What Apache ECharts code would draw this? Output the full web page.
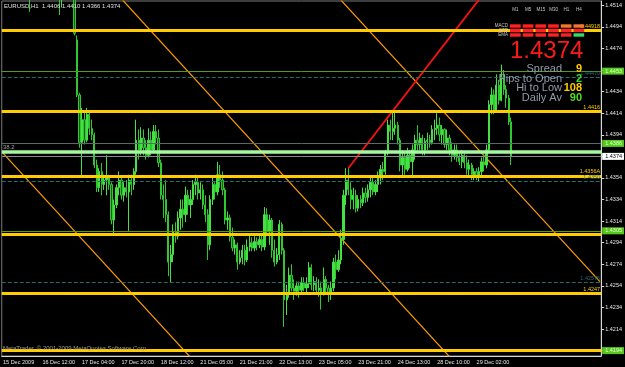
<!DOCTYPE html>
<html>
<head>
<meta charset="utf-8">
<script src="https://cdn.jsdelivr.net/npm/echarts@6/dist/echarts.min.js"></script>
<style>
html, body { margin: 0; padding: 0; background: #000; }
#chart { width: 625px; height: 367px; }
</style>
</head>
<body>
<div id="chart"></div>
<script>
// EURUSD H1, 15 Dec - 29 Dec 2009
const xTickLabels = ['15 Dec 2009', '16 Dec 12:00', '17 Dec 04:00', '17 Dec 20:00', '18 Dec 12:00',
  '21 Dec 05:00', '21 Dec 21:00', '22 Dec 13:00', '23 Dec 05:00', '23 Dec 21:00', '24 Dec 13:00',
  '28 Dec 10:00', '29 Dec 02:00'];
const slotCount = 243; // bars + empty shift area on the right
const yTickValues = [1.4194, 1.4214, 1.4234, 1.4254, 1.4274, 1.4294, 1.4314, 1.4334, 1.4354,
  1.4374, 1.4394, 1.4414, 1.4434, 1.4454, 1.4474, 1.4494, 1.4514];

// [open, close, low, high]
const candles = [
  [1.4548,1.4552,1.4541,1.4558],[1.4552,1.4545,1.4540,1.4556],[1.4545,1.4538,1.4533,1.4549],[1.4538,1.4542,1.4532,1.4547],
  [1.4542,1.4535,1.4530,1.4546],[1.4535,1.4531,1.4525,1.4540],[1.4531,1.4536,1.4527,1.4540],[1.4536,1.4530,1.4524,1.4539],
  [1.4530,1.4527,1.4522,1.4535],[1.4527,1.4532,1.4523,1.4536],[1.4532,1.4526,1.4521,1.4535],[1.4526,1.4523,1.4508,1.4531],
  [1.4523,1.4530,1.4520,1.4534],[1.4530,1.4536,1.4526,1.4541],[1.4536,1.4541,1.4531,1.4546],[1.4541,1.4538,1.4533,1.4548],
  [1.4538,1.4544,1.4534,1.4549],[1.4544,1.4540,1.4535,1.4550],[1.4540,1.4535,1.4530,1.4545],[1.4535,1.4539,1.4529,1.4543],
  [1.4539,1.4533,1.4527,1.4542],[1.4533,1.4529,1.4524,1.4537],[1.4529,1.4525,1.4521,1.4533],[1.4525,1.4522,1.4505,1.4530],
  [1.4522,1.4527,1.4512,1.4531],[1.4527,1.4531,1.4522,1.4536],[1.4531,1.4528,1.4523,1.4535],[1.4528,1.4533,1.4524,1.4538],
  [1.4533,1.4524,1.4520,1.4540],[1.4524,1.4488,1.4486,1.4528],[1.4482,1.4431,1.4429,1.4486],[1.4431,1.4387,1.4382,1.4433],
  [1.4387,1.4408,1.4354,1.4419],[1.4408,1.4389,1.4385,1.4417],[1.4389,1.4413,1.4387,1.4419],[1.4413,1.4400,1.4394,1.4417],
  [1.4400,1.4394,1.4389,1.4408],[1.4394,1.4366,1.4363,1.4396],[1.4366,1.4345,1.4341,1.4371],[1.4345,1.4360,1.4341,1.4363],
  [1.4360,1.4348,1.4338,1.4368],[1.4348,1.4352,1.4343,1.4357],[1.4352,1.4354,1.4338,1.4375],[1.4354,1.4348,1.4343,1.4357],
  [1.4348,1.4315,1.4311,1.4350],[1.4315,1.4329,1.4301,1.4334],[1.4329,1.4345,1.4326,1.4348],[1.4345,1.4352,1.4338,1.4360],
  [1.4352,1.4338,1.4334,1.4354],[1.4338,1.4345,1.4332,1.4350],[1.4345,1.4341,1.4336,1.4352],[1.4341,1.4352,1.4305,1.4357],
  [1.4352,1.4348,1.4338,1.4357],[1.4348,1.4360,1.4343,1.4363],[1.4360,1.4389,1.4357,1.4408],[1.4389,1.4380,1.4371,1.4399],
  [1.4380,1.4391,1.4375,1.4401],[1.4391,1.4382,1.4375,1.4399],[1.4382,1.4375,1.4371,1.4389],[1.4375,1.4389,1.4373,1.4400],
  [1.4389,1.4380,1.4375,1.4397],[1.4380,1.4397,1.4378,1.4403],[1.4397,1.4391,1.4385,1.4403],[1.4391,1.4368,1.4364,1.4399],
  [1.4368,1.4338,1.4334,1.4371],[1.4338,1.4334,1.4317,1.4348],[1.4334,1.4320,1.4313,1.4352],[1.4320,1.4276,1.4263,1.4323],
  [1.4276,1.4283,1.4257,1.4292],[1.4283,1.4304,1.4276,1.4311],[1.4304,1.4300,1.4294,1.4313],[1.4300,1.4317,1.4297,1.4323],
  [1.4317,1.4325,1.4306,1.4334],[1.4325,1.4320,1.4308,1.4334],[1.4320,1.4338,1.4313,1.4346],[1.4338,1.4329,1.4320,1.4343],
  [1.4329,1.4334,1.4317,1.4343],[1.4334,1.4348,1.4329,1.4352],[1.4348,1.4350,1.4338,1.4357],[1.4350,1.4340,1.4334,1.4354],
  [1.4340,1.4343,1.4334,1.4350],[1.4343,1.4329,1.4325,1.4348],[1.4329,1.4320,1.4313,1.4338],[1.4320,1.4292,1.4278,1.4325],
  [1.4292,1.4334,1.4287,1.4338],[1.4334,1.4348,1.4329,1.4354],[1.4348,1.4341,1.4334,1.4350],[1.4341,1.4357,1.4338,1.4369],
  [1.4357,1.4352,1.4345,1.4366],[1.4352,1.4343,1.4338,1.4360],[1.4343,1.4315,1.4311,1.4345],[1.4315,1.4317,1.4306,1.4323],
  [1.4317,1.4299,1.4295,1.4320],[1.4299,1.4289,1.4286,1.4308],[1.4289,1.4292,1.4283,1.4297],[1.4292,1.4276,1.4269,1.4294],
  [1.4276,1.4280,1.4274,1.4287],[1.4280,1.4287,1.4274,1.4292],[1.4287,1.4278,1.4273,1.4292],[1.4278,1.4290,1.4276,1.4297],
  [1.4290,1.4294,1.4286,1.4303],[1.4294,1.4289,1.4286,1.4299],[1.4289,1.4295,1.4286,1.4300],[1.4295,1.4292,1.4287,1.4299],
  [1.4292,1.4297,1.4289,1.4301],[1.4297,1.4290,1.4286,1.4301],[1.4290,1.4320,1.4287,1.4327],[1.4320,1.4304,1.4300,1.4326],
  [1.4304,1.4315,1.4292,1.4320],[1.4315,1.4287,1.4280,1.4317],[1.4287,1.4276,1.4272,1.4297],[1.4276,1.4283,1.4274,1.4289],
  [1.4283,1.4311,1.4278,1.4315],[1.4311,1.4287,1.4283,1.4313],[1.4287,1.4241,1.4216,1.4289],[1.4241,1.4246,1.4227,1.4255],
  [1.4246,1.4264,1.4243,1.4271],[1.4264,1.4252,1.4249,1.4274],[1.4252,1.4249,1.4241,1.4260],[1.4249,1.4254,1.4245,1.4258],
  [1.4254,1.4250,1.4243,1.4258],[1.4250,1.4257,1.4246,1.4262],[1.4257,1.4252,1.4249,1.4262],[1.4252,1.4256,1.4248,1.4262],
  [1.4256,1.4271,1.4252,1.4276],[1.4271,1.4255,1.4250,1.4274],[1.4255,1.4258,1.4249,1.4263],[1.4258,1.4250,1.4246,1.4262],
  [1.4250,1.4252,1.4244,1.4260],[1.4252,1.4248,1.4232,1.4258],[1.4248,1.4260,1.4245,1.4271],[1.4260,1.4252,1.4246,1.4263],
  [1.4252,1.4246,1.4239,1.4255],[1.4246,1.4252,1.4241,1.4258],[1.4252,1.4276,1.4249,1.4280],[1.4276,1.4269,1.4260,1.4283],
  [1.4269,1.4278,1.4267,1.4287],[1.4278,1.4297,1.4274,1.4306],[1.4297,1.4338,1.4292,1.4343],[1.4338,1.4352,1.4329,1.4363],
  [1.4352,1.4343,1.4338,1.4363],[1.4343,1.4334,1.4325,1.4350],[1.4334,1.4338,1.4325,1.4345],[1.4338,1.4326,1.4322,1.4343],
  [1.4326,1.4334,1.4323,1.4338],[1.4334,1.4331,1.4326,1.4338],[1.4331,1.4340,1.4328,1.4345],[1.4340,1.4336,1.4331,1.4345],
  [1.4336,1.4343,1.4332,1.4348],[1.4343,1.4350,1.4336,1.4354],[1.4350,1.4341,1.4338,1.4354],[1.4341,1.4348,1.4338,1.4352],
  [1.4348,1.4354,1.4341,1.4360],[1.4354,1.4362,1.4348,1.4366],[1.4362,1.4360,1.4352,1.4369],[1.4360,1.4378,1.4357,1.4380],
  [1.4378,1.4403,1.4375,1.4408],[1.4403,1.4397,1.4389,1.4408],[1.4397,1.4400,1.4389,1.4415],[1.4400,1.4403,1.4394,1.4415],
  [1.4403,1.4389,1.4385,1.4406],[1.4389,1.4366,1.4360,1.4391],[1.4366,1.4373,1.4354,1.4380],[1.4373,1.4362,1.4357,1.4378],
  [1.4362,1.4375,1.4360,1.4382],[1.4375,1.4369,1.4363,1.4380],[1.4369,1.4380,1.4354,1.4385],[1.4380,1.4389,1.4371,1.4394],
  [1.4389,1.4385,1.4378,1.4403],[1.4385,1.4391,1.4380,1.4396],[1.4391,1.4380,1.4375,1.4394],[1.4380,1.4388,1.4375,1.4391],
  [1.4388,1.4389,1.4380,1.4396],[1.4389,1.4387,1.4382,1.4394],[1.4387,1.4399,1.4385,1.4403],[1.4399,1.4400,1.4389,1.4408],
  [1.4400,1.4403,1.4394,1.4414],[1.4403,1.4394,1.4388,1.4410],[1.4394,1.4399,1.4385,1.4403],[1.4399,1.4385,1.4382,1.4400],
  [1.4385,1.4391,1.4380,1.4399],[1.4391,1.4380,1.4375,1.4394],[1.4380,1.4375,1.4369,1.4387],[1.4375,1.4380,1.4371,1.4385],
  [1.4380,1.4373,1.4369,1.4385],[1.4373,1.4369,1.4366,1.4378],[1.4369,1.4375,1.4363,1.4380],[1.4375,1.4368,1.4363,1.4378],
  [1.4368,1.4362,1.4357,1.4375],[1.4362,1.4366,1.4354,1.4371],[1.4366,1.4357,1.4352,1.4368],[1.4357,1.4360,1.4352,1.4363],
  [1.4360,1.4356,1.4352,1.4363],[1.4356,1.4360,1.4351,1.4364],[1.4360,1.4369,1.4354,1.4373],[1.4369,1.4366,1.4360,1.4375],
  [1.4366,1.4380,1.4363,1.4385],[1.4380,1.4422,1.4378,1.4426],[1.4422,1.4431,1.4413,1.4438],[1.4431,1.4417,1.4413,1.4436],
  [1.4417,1.4440,1.4415,1.4450],[1.4440,1.4426,1.4422,1.4445],[1.4426,1.4450,1.4425,1.4459],[1.4450,1.4436,1.4431,1.4454],
  [1.4436,1.4428,1.4419,1.4440],[1.4428,1.4406,1.4403,1.4431],[1.4406,1.4374,1.4366,1.4410]
];

// horizontal levels
const yellowLevels = [1.4491, 1.4416, 1.4356, 1.4302, 1.4247, 1.4194];
const yellowTags = ['1.44918', '1.4416', '1.4356A', '', '1.4247', ''];
const tealLevels = [1.4447, 1.4351, 1.4257];
const tealTags = ['1.44470', '1.4350', '1.42575'];
const greenLevels = [1.4453, 1.4305];
const boxLevels = [1.4453, 1.4386, 1.4305, 1.4194];
const fibLevel = 1.4386;
const paleLevel = 1.4378;
const bidPrice = 1.4374;

// channel lines and trend line: [category index, price]
const channelLines = [
  [[40, 1.4540], [200, 1.4141]],
  [[0, 1.4377], [100, 1.4128]],
  [[120, 1.4561], [242, 1.4258]]
];
const trendLine = [[140, 1.4363], [200, 1.4540]];

// indicator panel
const tfLabels = ['M1', 'M5', 'M15', 'M30', 'H1', 'H4'];
const rowLabels = ['MACD', 'STR', 'EMA'];
const signalColors = [
  ['#ff2020', '#ff2020', '#ff2020', '#ff2020', '#f07830', '#f07830'],
  ['#ff2020', '#ff2020', '#ff2020', '#ff2020', '#ff2020', '#ff2020'],
  ['#ff2020', '#ff2020', '#ff2020', '#ff2020', '#ff2020', '#33dd66']
];
const statLabels = ['Spread', 'Pips to Open', 'Hi to Low', 'Daily Av'];
const statValues = ['9', '2', '108', '90'];
const statColors = ['#ffcc00', '#33dd33', '#ffcc00', '#55dd22'];

const FONT = 'Liberation Sans';
const categories = Array.from({ length: slotCount }, (_, i) =>
  i % 16 === 0 && xTickLabels[i / 16] ? xTickLabels[i / 16] : '');

const chart = echarts.init(document.getElementById('chart'));

function hLine(value, color, width, type, tag) {
  return {
    yAxis: value,
    lineStyle: { color: color, width: width, type: type || 'solid', opacity: 1 },
    label: {
      show: !!tag,
      formatter: tag || '',
      position: 'insideEndTop',
      distance: [1, 1],
      color: color,
      fontSize: 5.5,
      fontFamily: FONT
    }
  };
}

function axisBox(value, bg, fg) {
  return {
    yAxis: value,
    lineStyle: { color: 'rgba(0,0,0,0)', width: 0 },
    label: {
      show: true,
      position: 'end',
      distance: 1,
      formatter: value.toFixed(4),
      backgroundColor: bg,
      color: fg,
      padding: [1, 2, 0, 3],
      fontSize: 5.5,
      fontFamily: FONT
    }
  };
}

const markData = [];
markData.push(hLine(fibLevel, '#5a6a6a', 1));
markData.push(hLine(bidPrice, '#8a8a8a', 1));
markData.push(hLine(paleLevel, '#a6f7a0', 3.5));
greenLevels.forEach(v => markData.push(hLine(v, '#5a9a18', 1)));
tealLevels.forEach((v, i) => markData.push(hLine(v, '#2c6a6c', 1, 'dashed', tealTags[i])));
yellowLevels.forEach((v, i) => markData.push(hLine(v, '#ffcc00', 3, 'solid', yellowTags[i])));
boxLevels.forEach(v => markData.push(axisBox(v, '#55c81c', '#e8ffd8')));
markData.push(axisBox(bidPrice, '#ffffff', '#000000'));

const graphics = [];
graphics.push({
  type: 'text', left: 4, top: 3, z: 100,
  style: { text: 'EURUSD,H1  1.4406 1.4410 1.4366 1.4374', fill: '#e0e0e0', font: '6px ' + FONT }
});
graphics.push({
  type: 'text', left: 3, top: 144, z: 100,
  style: { text: '38.2', fill: '#9aa0a0', font: '6px ' + FONT }
});
graphics.push({
  type: 'text', left: 3, top: 345, z: 100,
  style: { text: 'MetaTrader, \u00a9 2001-2009 MetaQuotes Software Corp.', fill: '#a0a0a0', font: '6px ' + FONT }
});
tfLabels.forEach((t, c) => {
  graphics.push({
    type: 'text', x: 515.5 + c * 12.7, y: 10, z: 100,
    style: { text: t, fill: '#c8c8c8', font: '4.5px ' + FONT, align: 'center', verticalAlign: 'middle' }
  });
});
rowLabels.forEach((t, r) => {
  graphics.push({
    type: 'text', x: 508, y: 26 + r * 4.5, z: 100,
    style: { text: t, fill: '#c8c8c8', font: '4.5px ' + FONT, align: 'right', verticalAlign: 'middle' }
  });
  signalColors[r].forEach((col, c) => {
    graphics.push({
      type: 'rect', z: 100,
      shape: { x: 510 + c * 12.7, y: 24.3 + r * 4.5, width: 10.7, height: 3.4 },
      style: { fill: col }
    });
  });
});
graphics.push({
  type: 'text', x: 510, y: 51, z: 100,
  style: { text: '1.4374', fill: '#ff1a1a', font: '24px ' + FONT, align: 'left', verticalAlign: 'middle' }
});
statLabels.forEach((t, i) => {
  graphics.push({
    type: 'text', x: 562, y: 69 + i * 9.6, z: 100,
    style: { text: t, fill: '#8e9cad', font: '11px ' + FONT, align: 'right', verticalAlign: 'middle' }
  });
  graphics.push({
    type: 'text', x: 582, y: 69 + i * 9.6, z: 100,
    style: { text: statValues[i], fill: statColors[i], font: 'bold 11px ' + FONT, align: 'right', verticalAlign: 'middle' }
  });
});

const lineSeries = channelLines.map(pts => ({
  type: 'line',
  data: pts,
  symbol: 'none',
  clip: true,
  silent: true,
  z: 3,
  lineStyle: { color: '#ff9c00', width: 1.2 }
}));
lineSeries.push({
  type: 'line',
  data: trendLine,
  symbol: 'none',
  clip: true,
  silent: true,
  z: 3,
  lineStyle: { color: '#ff1010', width: 1.8 }
});

chart.setOption({
  backgroundColor: '#000000',
  animation: false,
  grid: { left: 1, right: 23, top: 1, bottom: 11, show: true, borderColor: '#7a7a7a', borderWidth: 1 },
  xAxis: {
    type: 'category',
    data: categories,
    boundaryGap: true,
    axisLine: { lineStyle: { color: '#d8d8d8', width: 1 } },
    axisTick: { interval: 15, alignWithLabel: true, length: 3, lineStyle: { color: '#d8d8d8' } },
    axisLabel: { interval: 15, align: 'left', margin: 3, color: '#e4e4e4', fontSize: 5.5, fontFamily: FONT },
    splitLine: { show: false }
  },
  yAxis: {
    type: 'value',
    position: 'right',
    min: 1.4189,
    max: 1.4518,
    axisLine: { show: true, lineStyle: { color: '#d8d8d8', width: 1 } },
    axisTick: { show: true, customValues: yTickValues, length: 3, lineStyle: { color: '#d8d8d8' } },
    axisLabel: {
      customValues: yTickValues,
      formatter: v => v.toFixed(4),
      margin: 4, color: '#e4e4e4', fontSize: 5.5, fontFamily: FONT
    },
    splitLine: { show: false }
  },
  series: [
    {
      type: 'candlestick',
      data: candles,
      barWidth: 1.8,
      clip: true,
      z: 4,
      itemStyle: {
        color: '#44e044',
        borderColor: '#44e044',
        color0: '#1d5e1d',
        borderColor0: '#2fc82f',
        borderWidth: 1
      },
      markLine: {
        silent: true,
        precision: 4,
        symbol: ['none', 'none'],
        animation: false,
        data: markData
      }
    },
    ...lineSeries
  ],
  graphic: graphics
});
</script>
</body>
</html>
